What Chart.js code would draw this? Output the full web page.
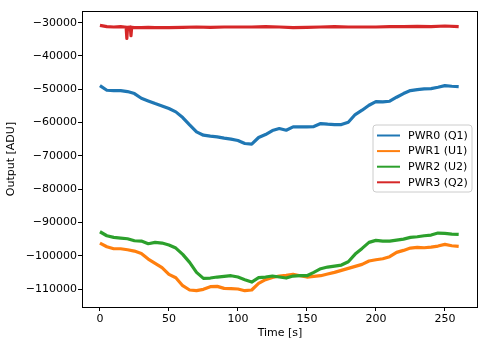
<!DOCTYPE html>
<html>
<head>
<meta charset="utf-8">
<script src="https://cdn.jsdelivr.net/npm/chart.js@4"></script>
<style>
  body { margin: 0; background: #fff; }
</style>
</head>
<body>
<canvas id="pwr-chart" width="489" height="347"></canvas>
<script>
// sample times in seconds (PWR0..PWR2 share these)
const time = [0, 5, 10, 15, 20, 25, 30, 35, 40, 45, 50, 55, 60, 65, 70, 75, 80, 85, 90, 95,
  100, 105, 110, 115, 120, 125, 130, 135, 140, 145, 150, 155, 160, 165, 170, 175, 180, 185,
  190, 195, 200, 205, 210, 215, 220, 225, 230, 235, 240, 245, 250, 255, 260];

const pwr0 = [-48900, -50300, -50400, -50400, -50700, -51300, -52700, -53500, -54300, -55000,
  -55800, -56800, -58500, -60700, -62800, -63800, -64100, -64300, -64700, -65000,
  -65400, -66300, -66500, -64500, -63600, -62400, -61800, -62300, -61300, -61300,
  -61300, -61200, -60300, -60500, -60600, -60600, -59900, -57600, -56300, -54800,
  -53700, -53800, -53600, -52400, -51300, -50400, -50100, -49900, -49800, -49400,
  -48900, -49100, -49200];

const pwr1 = [-96200, -97300, -97900, -97900, -98200, -98600, -99300, -101000, -102300, -103600,
  -105600, -106600, -109000, -110300, -110500, -110100, -109300, -109200, -109800, -109900,
  -110000, -110500, -110300, -108300, -107200, -106500, -106100, -105900, -105600, -106000,
  -106400, -106200, -106000, -105500, -105000, -104400, -103800, -103200, -102600, -101600,
  -101200, -100900, -100300, -99000, -98400, -97700, -97500, -97600, -97400, -97100,
  -96600, -97000, -97200];

const pwr2 = [-92800, -94000, -94500, -94700, -94900, -95500, -95600, -96400, -96000, -96200,
  -96800, -97700, -99600, -102000, -105000, -106800, -106700, -106400, -106200, -106000,
  -106400, -107200, -107900, -106600, -106400, -106100, -106400, -106700, -106100, -106000,
  -106000, -105000, -103900, -103400, -103100, -102800, -101800, -99500, -97800, -96000,
  -95400, -95600, -95600, -95300, -95000, -94500, -94300, -94000, -93800, -93200,
  -93300, -93500, -93600];

// PWR3 has its own times so the two short dips near 20 s show up
const pwr3Time = [0, 5, 10, 15, 18, 19, 19.5, 20, 22, 22.5, 23, 25, 30, 35, 40, 50, 60, 70, 80, 90,
  100, 110, 120, 130, 140, 150, 160, 170, 180, 190, 200, 210, 220, 230, 240, 250, 260];
const pwr3 = [-30800, -31200, -31300, -31200, -31300, -31400, -34700, -31400, -31300, -33900,
  -31400, -31500, -31500, -31400, -31500, -31500, -31400, -31300, -31400, -31300,
  -31300, -31300, -31200, -31300, -31500, -31400, -31300, -31200, -31300, -31300,
  -31300, -31200, -31200, -31100, -31200, -31000, -31200];

const labels = ['PWR0 (Q1)', 'PWR1 (U1)', 'PWR2 (U2)', 'PWR3 (Q2)'];
const colors = ['#1f77b4', '#ff7f0e', '#2ca02c', '#d62728'];
const xTicks = [0, 50, 100, 150, 200, 250];
const yTicks = [-110000, -100000, -90000, -80000, -70000, -60000, -50000, -40000, -30000];

const font = { family: 'DejaVu Sans', size: 11 };

function points(xs, ys) {
  return ys.map((y, i) => ({ x: xs[i], y: y }));
}

const series = [
  points(time, pwr0),
  points(time, pwr1),
  points(time, pwr2),
  points(pwr3Time, pwr3)
];

// closed axes box plus a matplotlib-like legend in the upper right
const frameAndLegend = {
  id: 'frameAndLegend',
  afterDraw(chart) {
    const ctx = chart.ctx;
    const a = chart.chartArea;
    ctx.save();
    ctx.strokeStyle = '#000';
    ctx.lineWidth = 1;
    ctx.strokeRect(a.left + 0.5, a.top + 0.5, a.right - a.left - 1, a.bottom - a.top);

    const bx = 373, by = 125, bw = 99, bh = 67, r = 3;
    ctx.beginPath();
    ctx.moveTo(bx + r, by);
    ctx.arcTo(bx + bw, by, bx + bw, by + bh, r);
    ctx.arcTo(bx + bw, by + bh, bx, by + bh, r);
    ctx.arcTo(bx, by + bh, bx, by, r);
    ctx.arcTo(bx, by, bx + bw, by, r);
    ctx.closePath();
    ctx.fillStyle = 'rgba(255,255,255,0.8)';
    ctx.fill();
    ctx.strokeStyle = '#cccccc';
    ctx.stroke();

    ctx.font = '11px "DejaVu Sans"';
    ctx.textBaseline = 'middle';
    chart.data.datasets.forEach((ds, i) => {
      const y = 135.5 + i * 15.6;
      ctx.beginPath();
      ctx.moveTo(377, y);
      ctx.lineTo(400, y);
      ctx.strokeStyle = ds.borderColor;
      ctx.lineWidth = 2;
      ctx.stroke();
      ctx.fillStyle = '#000';
      ctx.fillText(ds.label, 408, y + 0.5);
    });
    ctx.restore();
  }
};

new Chart(document.getElementById('pwr-chart'), {
  type: 'line',
  data: {
    datasets: series.map((data, i) => ({
      label: labels[i],
      data: data,
      borderColor: colors[i],
      backgroundColor: colors[i],
      borderWidth: 3.2,
      borderJoinStyle: 'round',
      pointRadius: 0,
      tension: 0,
      fill: false,
      order: 3 - i
    }))
  },
  options: {
    responsive: false,
    animation: false,
    devicePixelRatio: 1,
    layout: { padding: { top: 11, right: 11, left: 0, bottom: 0 } },
    plugins: {
      legend: { display: false },
      tooltip: { enabled: false }
    },
    scales: {
      x: {
        type: 'linear',
        min: -13,
        max: 274,
        afterBuildTicks: s => { s.ticks = xTicks.map(v => ({ value: v })); },
        afterFit: s => { s.height = 40; },
        border: { display: false },
        grid: { drawOnChartArea: false, drawTicks: true, tickLength: 4, color: '#000' },
        ticks: { color: '#000', font: font, padding: 2, maxRotation: 0 },
        title: { display: true, text: 'Time [s]', color: '#000', font: font, padding: { bottom: 7 } }
      },
      y: {
        type: 'linear',
        min: -115400,
        max: -26500,
        afterBuildTicks: s => { s.ticks = yTicks.map(v => ({ value: v })); },
        afterFit: s => { s.width = 82; },
        border: { display: false },
        grid: { drawOnChartArea: false, drawTicks: true, tickLength: 4, color: '#000' },
        ticks: {
          color: '#000',
          font: font,
          padding: 1,
          callback: v => (v < 0 ? '\u2212' : '') + Math.abs(v)
        },
        title: { display: true, text: 'Output [ADU]', color: '#000', font: font, padding: { top: 5 } }
      }
    }
  },
  plugins: [frameAndLegend]
});
</script>
</body>
</html>
